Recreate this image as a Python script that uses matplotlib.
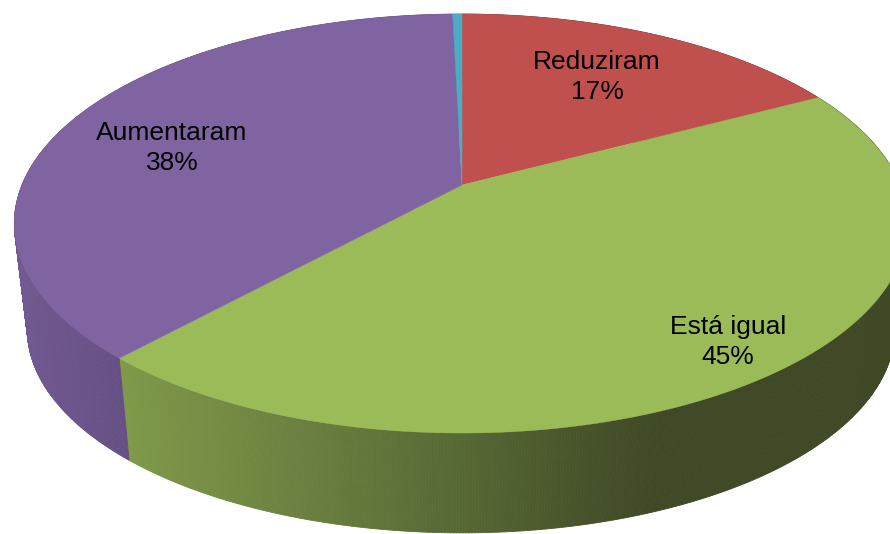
import numpy as np
import matplotlib
matplotlib.use("Agg")
import matplotlib.pyplot as plt
from matplotlib.collections import PolyCollection
from matplotlib.colors import to_rgb

# data, clockwise from 12 o'clock
categories = ["Reduziram", "Está igual", "Aumentaram", "Outros"]
values = [17.3, 44.7, 38.0, 0.4]
shown = ["17%", "45%", "38%", None]
top_colors = ["#C0504D", "#9BBB59", "#8064A2", "#4BACC6"]

# wall shading: colour stops along the horizontal position
wall_stops = {
    "#C0504D": ([0, 890], ["#7F3533", "#7F3533"]),
    "#9BBB59": ([120, 300, 450, 590, 660], ["#7F9A49", "#6B8040", "#586A35", "#46522A", "#3F4926"]),
    "#8064A2": ([15, 125], ["#725A92", "#664F84"]),
    "#4BACC6": ([0, 890], ["#327385", "#327385"]),
}

# layout of the tilted disc
CX, CY = 462.0, 185.0
A_LEFT, A_RIGHT, B, K = 440.0, 438.0, 202.4, 0.184
DEPTH, SHRINK = 107.0, 0.971


def project(theta, r=1.0, depth=0.0, scale=1.0):
    u, v = r * np.sin(theta), r * np.cos(theta)
    w = 1 + K * v
    a = np.where(u < 0, A_LEFT, A_RIGHT)
    return CX + scale * a * u / w, CY + depth - scale * B * v / w


def shade(color, x):
    xs, cols = wall_stops[color]
    rgb = np.array([to_rgb(c) for c in cols])
    return tuple(np.interp(x, xs, rgb[:, i]) for i in range(3))


fig = plt.figure(figsize=(8.9, 5.34), dpi=100, facecolor="white")
ax = fig.add_axes([0, 0, 1, 1])
ax.set_xlim(0, 890)
ax.set_ylim(534, 0)
ax.axis("off")

edges = np.concatenate([[0], np.cumsum(values)]) / np.sum(values) * 2 * np.pi

# side wall
for i, color in enumerate(top_colors):
    n = max(2, int(np.degrees(edges[i + 1] - edges[i]) * 3))
    th = np.linspace(edges[i], edges[i + 1], n + 1)
    tx, ty = project(th)
    bx, by = project(th, depth=DEPTH, scale=SHRINK)
    quads, cols = [], []
    for j in range(n):
        quads.append([(tx[j], ty[j]), (tx[j + 1], ty[j + 1]), (bx[j + 1], by[j + 1]), (bx[j], by[j])])
        cols.append(shade(color, (tx[j] + tx[j + 1] + bx[j] + bx[j + 1]) / 4))
    ax.add_collection(PolyCollection(quads, facecolors=cols, edgecolors=cols, linewidths=0.6, zorder=2))

# top surface
for i, color in enumerate(top_colors):
    th = np.linspace(edges[i], edges[i + 1], 200)
    x, y = project(th)
    ax.fill(np.r_[CX, x], np.r_[CY, y], color=color, lw=0.3, zorder=3)

# labels
label_xy = [(597, 77), (728, 342), (172, 148)]
for name, pct, (lx, ly) in zip(categories, shown, label_xy):
    ax.text(lx, ly, f"{name}\n{pct}", ha="center", va="center", fontsize=19,
            family="Liberation Sans", color="black", linespacing=1.3, zorder=5)

fig.savefig("out.png", dpi=100)
